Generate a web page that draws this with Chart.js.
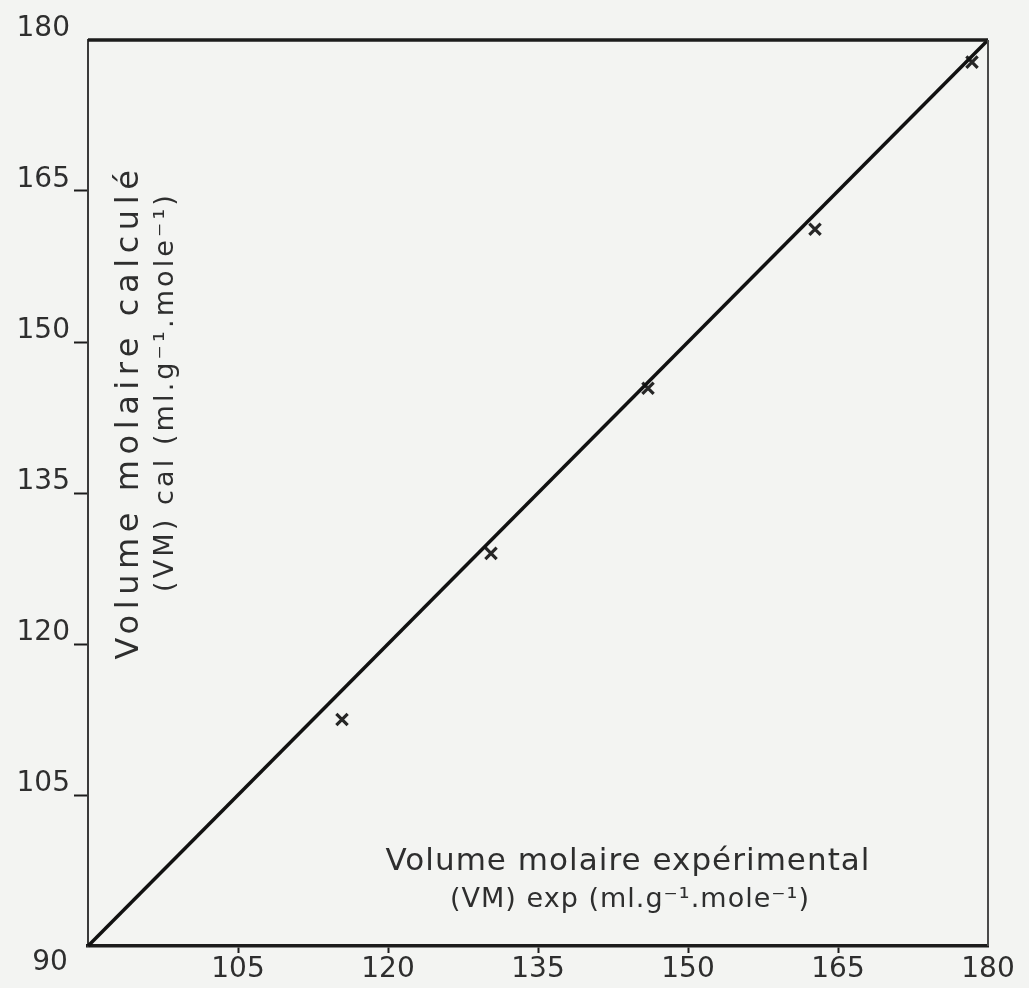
<!DOCTYPE html>
<html>
<head>
<meta charset="utf-8">
<script src="https://cdn.jsdelivr.net/npm/chart.js@4.4.1/dist/chart.umd.min.js"></script>
<style>
html,body{margin:0;padding:0;background:#f3f4f2;}
#wrap{position:relative;width:1029px;height:988px;}
</style>
</head>
<body>
<div id="wrap"><canvas id="c" width="1029" height="988"></canvas></div>
<script>
// Data
const expX = [115.4, 130.3, 146.0, 162.7, 178.4];   // (VM) exp
const calY = [112.5, 129.0, 145.4, 161.2, 177.8];   // (VM) cal
const lineX = [90, 180];
const lineY = [90, 180];
const tickValues = [90, 105, 120, 135, 150, 165, 180];
const xTitle = ["Volume molaire expérimental", "(VM) exp (ml.g⁻¹.mole⁻¹)"];
const yTitle = ["Volume molaire calculé", "(VM) cal (ml.g⁻¹.mole⁻¹)"];

const INK = '#1c1c1c';
const LABEL = '#2e2e2e';
const FONT = "'DejaVu Sans', sans-serif";

const pts = expX.map((x, i) => ({x: x, y: calY[i]}));
const linePts = lineX.map((x, i) => ({x: x, y: lineY[i]}));

// fixed font size; spread letters a little (or shrink) so the text spans targetW
function fitText(ctx, text, targetW, size) {
  ctx.font = size + "px " + FONT;
  ctx.letterSpacing = '0px';
  let w = ctx.measureText(text).width;
  if (w > targetW) {
    size = size * targetW / w;
    ctx.font = size + "px " + FONT;
    w = ctx.measureText(text).width;
  }
  const n = [...text].length;
  const sp = Math.max(0, (targetW - w) / n);
  ctx.letterSpacing = sp.toFixed(2) + 'px';
}

const decor = {
  id: 'decor',
  beforeDraw(chart) {
    const ctx = chart.ctx;
    ctx.save();
    ctx.fillStyle = '#f3f4f2';
    ctx.fillRect(0, 0, chart.width, chart.height);
    ctx.restore();
  },
  afterDraw(chart) {
    const ctx = chart.ctx;
    const a = chart.chartArea;
    ctx.save();
    // top border
    ctx.strokeStyle = INK;
    ctx.lineWidth = 3.5;
    ctx.beginPath();
    ctx.moveTo(a.left, a.top);
    ctx.lineTo(a.right, a.top);
    ctx.stroke();
    // right border
    ctx.strokeStyle = '#4a4a4a';
    ctx.lineWidth = 2;
    ctx.beginPath();
    ctx.moveTo(a.right, a.top);
    ctx.lineTo(a.right, a.bottom);
    ctx.stroke();

    // "90" corner label
    ctx.fillStyle = LABEL;
    ctx.font = "28px " + FONT;
    ctx.textAlign = 'center';
    ctx.textBaseline = 'middle';
    ctx.fillText("90", a.left - 38, a.bottom + 17);

    // x title (inside plot)
    ctx.textAlign = 'center';
    fitText(ctx, xTitle[0], 485, 31);
    ctx.fillText(xTitle[0], 628, 862);
    fitText(ctx, xTitle[1], 360, 27);
    ctx.fillText(xTitle[1], 630, 900);

    // y title (inside plot, rotated)
    ctx.save();
    ctx.translate(130, 412);
    ctx.rotate(-Math.PI / 2);
    fitText(ctx, yTitle[0], 495, 32);
    ctx.fillText(yTitle[0], 0, 0);
    ctx.restore();
    ctx.save();
    ctx.translate(166, 392);
    ctx.rotate(-Math.PI / 2);
    fitText(ctx, yTitle[1], 400, 27);
    ctx.fillText(yTitle[1], 0, 0);
    ctx.restore();
    ctx.letterSpacing = '0px';
    ctx.restore();
  }
};

const hideEnds = (ctx) => {
  const v = ctx.tick && ctx.tick.value;
  return (v === 90 || v === 180) ? 'rgba(0,0,0,0)' : INK;
};

new Chart(document.getElementById('c'), {
  type: 'scatter',
  data: {
    datasets: [
      {
        label: 'droite',
        data: linePts,
        showLine: true,
        borderColor: '#111',
        borderWidth: 3.5,
        pointRadius: 0,
        fill: false,
        clip: false
      },
      {
        label: 'points',
        data: pts,
        pointStyle: 'crossRot',
        pointRadius: 8,
        pointBorderWidth: 3.2,
        borderColor: '#262626',
        backgroundColor: '#262626',
        clip: false
      }
    ]
  },
  plugins: [decor],
  options: {
    responsive: false,
    animation: false,
    events: [],
    layout: { padding: { top: 40, right: 41, left: 0, bottom: 0 } },
    plugins: {
      legend: { display: false },
      tooltip: { enabled: false },
      title: { display: false }
    },
    scales: {
      x: {
        type: 'linear',
        min: 90, max: 180,
        afterBuildTicks(scale) { scale.ticks = tickValues.map(v => ({value: v})); },
        afterFit(scale) { scale.height = 42; },
        border: { display: true, color: INK, width: 3.5 },
        grid: {
          drawOnChartArea: false,
          drawTicks: true,
          tickLength: 7,
          tickWidth: 2,
          tickColor: hideEnds
        },
        ticks: {
          color: LABEL,
          padding: 0,
          font: { family: FONT, size: 28 },
          maxRotation: 0,
          autoSkip: false,
          callback: (v) => (v === 90 ? '' : String(v))
        }
      },
      y: {
        type: 'linear',
        min: 90, max: 180,
        afterBuildTicks(scale) { scale.ticks = tickValues.map(v => ({value: v})); },
        afterFit(scale) { scale.width = 88; },
        border: { display: true, color: '#3a3a3a', width: 2 },
        grid: {
          drawOnChartArea: false,
          drawTicks: true,
          tickLength: 14,
          tickWidth: 2,
          tickColor: hideEnds
        },
        ticks: {
          color: LABEL,
          padding: 4,
          labelOffset: -11,
          font: { family: FONT, size: 28 },
          autoSkip: false,
          callback: (v) => (v === 90 ? '' : String(v))
        }
      }
    }
  }
});
</script>
</body>
</html>
